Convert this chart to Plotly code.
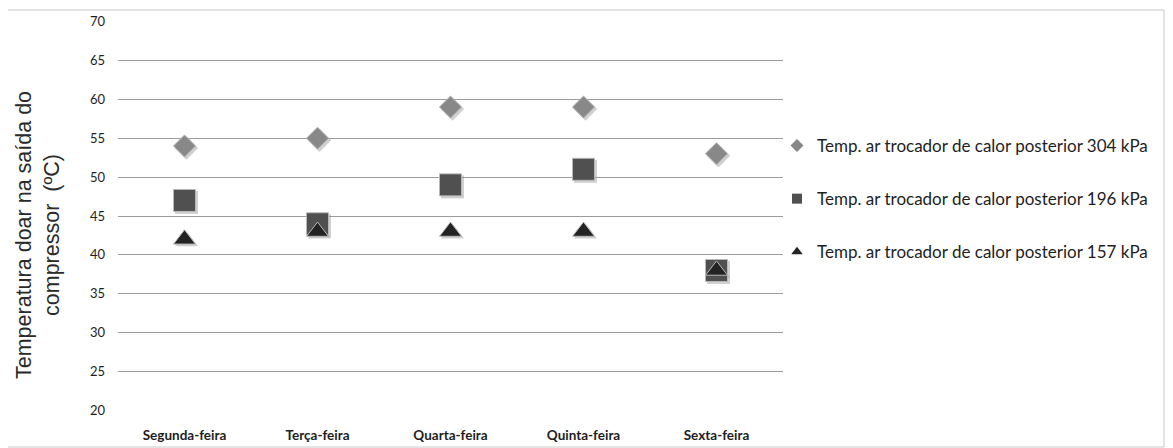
import plotly.graph_objects as go

dias = ["Segunda-feira", "Terça-feira", "Quarta-feira", "Quinta-feira", "Sexta-feira"]
temp_304 = [54, 55, 59, 59, 53]
temp_196 = [47, 44, 49, 51, 38]
temp_157 = [42, 43, 43, 43, 38]

nomes = [
    "Temp. ar trocador de calor posterior 304 kPa",
    "Temp. ar trocador de calor posterior 196 kPa",
    "Temp. ar trocador de calor posterior 157 kPa",
]
y_ticks = list(range(20, 75, 5))

series = [
    (temp_304, nomes[0], "diamond", 17, "#888888"),
    (temp_196, nomes[1], "square", 22, "#505050"),
    (temp_157, nomes[2], "triangle-up", 19, "#232323"),
]

fig = go.Figure()
# soft drop shadows (same data, on an overlay axis shifted by a couple of pixels)
for vals, nome, sym, size, cor in series:
    fig.add_trace(go.Scatter(
        x=dias, y=vals, mode="markers", showlegend=False, hoverinfo="skip",
        xaxis="x2", yaxis="y2",
        marker=dict(symbol=sym, size=size + 1, color="rgba(150,150,150,0.45)",
                    line=dict(width=0)),
    ))
for vals, nome, sym, size, cor in series:
    fig.add_trace(go.Scatter(
        x=dias, y=vals, mode="markers", name=nome, showlegend=False,
        xaxis="x3", yaxis="y3",
        marker=dict(symbol=sym, size=size, color=cor,
                    line=dict(color="#b8b8b8", width=1)),
    ))
for i, (vals, nome, sym, size, cor) in enumerate(series):
    fig.add_trace(go.Scatter(
        x=[None], y=[None], mode="markers", name=nome, legendgroup=str(i),
        marker=dict(symbol=sym, size=10, color=cor),
    ))

# page body adds an 8px offset; work in reference-image pixels
OFF = 8
W, H = 1173, 448
left, right, top, bottom = 118 - OFF, 783 - OFF, 21 - OFF, 411 - OFF
ml, mr, mt, mb = left, W - right, top, H - bottom
pw, ph = right - left, bottom - top

def px_x(p):
    return (p - OFF - ml) / pw

def px_y(p):
    return (bottom - (p - OFF)) / ph

xr = [-0.5, 4.5]
yr = [19.94, 70.06]
sx = 2 * (xr[1] - xr[0]) / pw
sy = 2 * (yr[1] - yr[0]) / ph

fig.update_layout(
    width=W, height=H,
    margin=dict(l=ml, r=mr, t=mt, b=mb, autoexpand=False),
    paper_bgcolor="white", plot_bgcolor="white",
    font=dict(family="Lato, sans-serif", color="#1e1e1e"),
    xaxis=dict(
        type="category", categoryarray=dias, showgrid=False, zeroline=False, showline=False,
        tickfont=dict(size=13.5, family="Lato, sans-serif", weight="bold"),
        ticklabelstandoff=14, range=xr,
    ),
    yaxis=dict(
        range=yr, tickvals=y_ticks, showgrid=True, gridcolor="#9c9c9c",
        gridwidth=1, zeroline=False, showline=False,
        tickfont=dict(size=13, family="Lato, sans-serif"),
        ticklabelstandoff=12,
    ),
    xaxis2=dict(type="category", categoryarray=dias, overlaying="x", visible=False,
                range=[xr[0] - sx, xr[1] - sx]),
    yaxis2=dict(overlaying="y", visible=False, range=[yr[0] + sy, yr[1] + sy]),
    xaxis3=dict(type="category", categoryarray=dias, overlaying="x", visible=False, range=xr),
    yaxis3=dict(overlaying="y", visible=False, range=yr),
    legend=dict(
        x=px_x(777), y=px_y(128), xanchor="left", yanchor="top",
        font=dict(size=17, family="Lato, sans-serif", color="#1e1e1e"),
        tracegroupgap=28, bgcolor="rgba(0,0,0,0)",
    ),
    annotations=[dict(
        text="Temperatura doar na saída do<br>compressor  (ºC)",
        x=px_x(38), y=px_y(235), xref="paper", yref="paper",
        xanchor="center", yanchor="middle",
        textangle=-90, showarrow=False,
        font=dict(family="Liberation Sans, Arial, sans-serif", size=21.5, color="#2a2a2a"),
    )],
    shapes=[dict(
        type="rect", xref="paper", yref="paper",
        x0=px_x(7), x1=px_x(1164), y0=px_y(447), y1=px_y(10),
        line=dict(color="#c8c8c8", width=1), fillcolor="rgba(0,0,0,0)", layer="below",
    )],
)

fig.write_html("out.html")
